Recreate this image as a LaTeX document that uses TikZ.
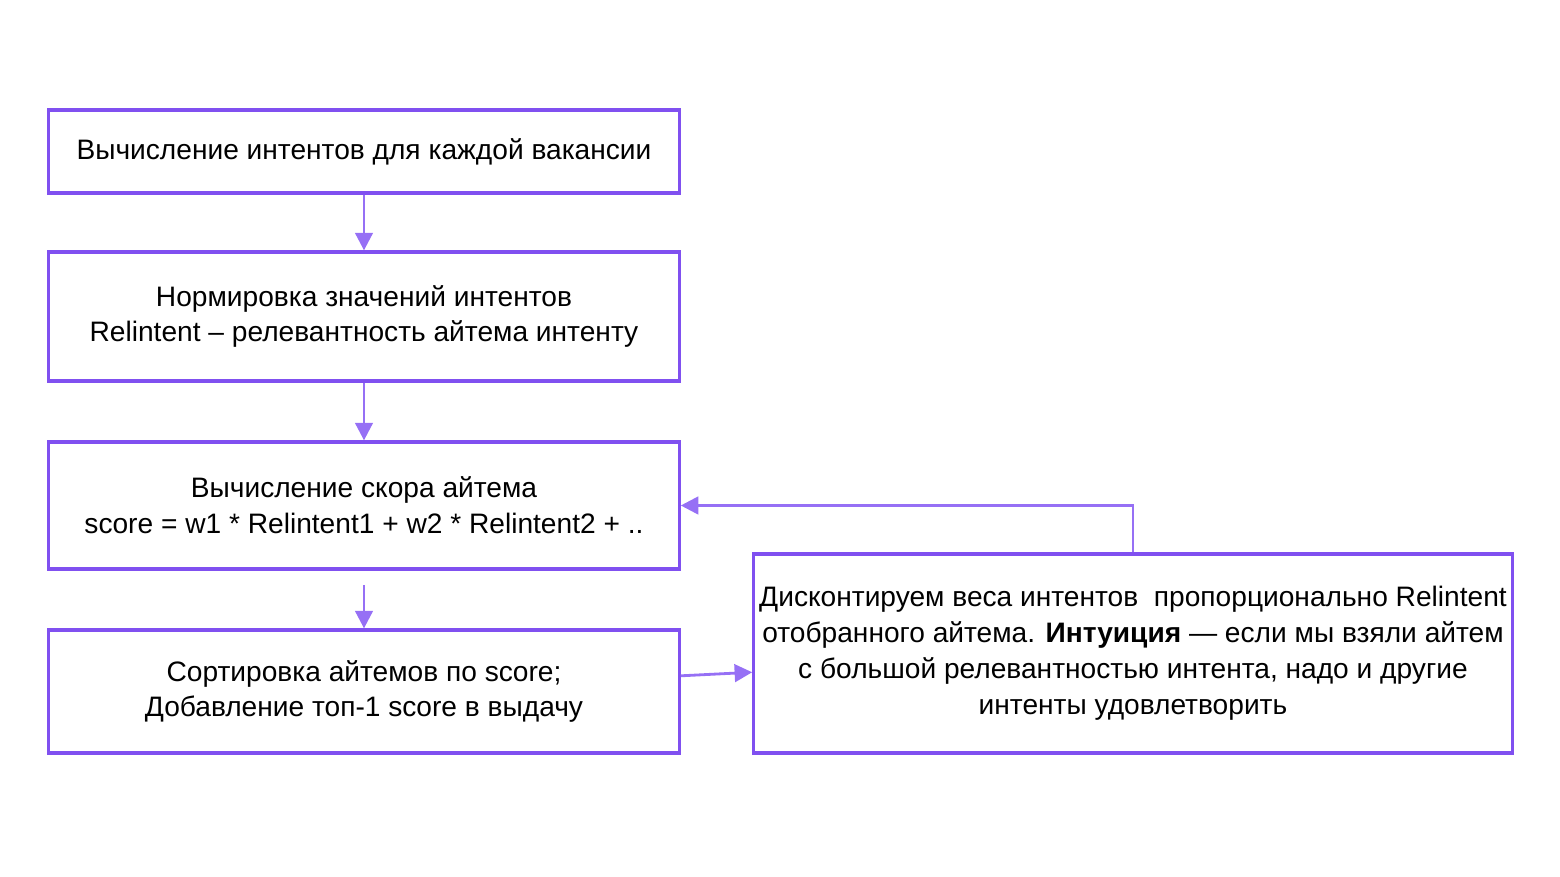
\documentclass[tikz,border=0pt]{standalone}
\usepackage{fontspec}
\setmainfont{Liberation Sans}
\usetikzlibrary{positioning, arrows.meta}
\definecolor{boxpurple}{RGB}{128,80,240}
\definecolor{arrowpurple}{RGB}{150,112,245}
\tikzset{
  stage/.style={draw=boxpurple, line width=0.9pt, align=center, inner sep=0pt,
    font=\fontsize{8}{10.2}\selectfont},
  flow/.style={draw=arrowpurple, line width=0.8pt, -{Triangle[length=5pt,width=5pt]}}
}

\begin{document}
\begin{tikzpicture}[x=0.01cm, y=-0.01cm]
\useasboundingbox (0,0) rectangle (1560,877);
\node[stage, minimum width=6.3cm, minimum height=0.83cm] (intents) at (364,151.5) {Вычисление интентов для каждой вакансии};
\node[stage, minimum width=6.3cm, minimum height=1.29cm] (norm) at (364,316.5) {Нормировка значений интентов\\Relintent -- релевантность айтема интенту};
\node[stage, minimum width=6.3cm, minimum height=1.27cm] (score) at (364,505.5) {Вычисление скора айтема\\score = w1 * Relintent1 + w2 * Relintent2 + ..};
\node[stage, minimum width=6.3cm, minimum height=1.23cm] (sort) at (364,691.5) {Сортировка айтемов по score;\\Добавление топ-1 score в выдачу};
\node[stage, minimum width=7.58cm, minimum height=1.99cm] (discount) at (1133,653.5) {Дисконтируем веса интентов\ \ пропорционально Relintent\\отобранного айтема. \textbf{Интуиция} --- если мы взяли айтем\\с большой релевантностью интента, надо и другие\\интенты удовлетворить};
\coordinate (gap) at (364,585);

\draw[flow] (intents) -- (norm);
\draw[flow] (norm) -- (score);
\draw[flow] (gap) -- (sort);
\draw[flow] (sort) -- (discount);
\draw[flow] (discount.north) |- (score.east);
\end{tikzpicture}
\end{document}
